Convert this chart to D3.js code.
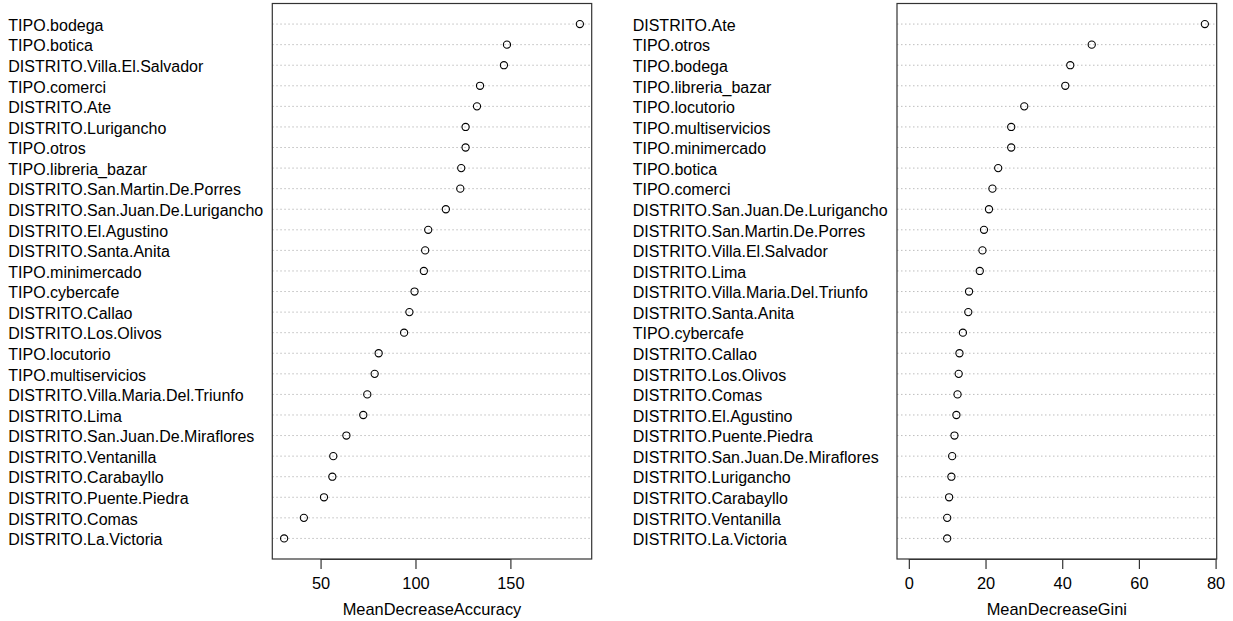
<!DOCTYPE html>
<html>
<head>
<meta charset="utf-8">
<script src="https://cdn.jsdelivr.net/npm/d3@7"></script>
<style>
  body { margin: 0; background: #fff; }
  svg { display: block; }
  text { font-family: "Liberation Sans", Arial, sans-serif; fill: #000; }
</style>
</head>
<body>
<svg id="chart" width="1233" height="621"></svg>
<script>
// Left panel: MeanDecreaseAccuracy (top to bottom)
const accLabels = [
  "TIPO.bodega", "TIPO.botica", "DISTRITO.Villa.El.Salvador", "TIPO.comerci",
  "DISTRITO.Ate", "DISTRITO.Lurigancho", "TIPO.otros", "TIPO.libreria_bazar",
  "DISTRITO.San.Martin.De.Porres", "DISTRITO.San.Juan.De.Lurigancho",
  "DISTRITO.El.Agustino", "DISTRITO.Santa.Anita", "TIPO.minimercado",
  "TIPO.cybercafe", "DISTRITO.Callao", "DISTRITO.Los.Olivos", "TIPO.locutorio",
  "TIPO.multiservicios", "DISTRITO.Villa.Maria.Del.Triunfo", "DISTRITO.Lima",
  "DISTRITO.San.Juan.De.Miraflores", "DISTRITO.Ventanilla", "DISTRITO.Carabayllo",
  "DISTRITO.Puente.Piedra", "DISTRITO.Comas", "DISTRITO.La.Victoria"
];
const accValues = [
  186.6, 148.2, 146.6, 134.0, 132.4, 126.4, 126.4, 124.1, 123.6, 116.0,
  106.7, 105.1, 104.4, 99.5, 96.8, 94.0, 80.6, 78.5, 74.6, 72.5,
  63.6, 56.7, 56.2, 51.8, 41.2, 30.8
];
const accTicks = [50, 100, 150];

// Right panel: MeanDecreaseGini (top to bottom)
const giniLabels = [
  "DISTRITO.Ate", "TIPO.otros", "TIPO.bodega", "TIPO.libreria_bazar",
  "TIPO.locutorio", "TIPO.multiservicios", "TIPO.minimercado", "TIPO.botica",
  "TIPO.comerci", "DISTRITO.San.Juan.De.Lurigancho", "DISTRITO.San.Martin.De.Porres",
  "DISTRITO.Villa.El.Salvador", "DISTRITO.Lima", "DISTRITO.Villa.Maria.Del.Triunfo",
  "DISTRITO.Santa.Anita", "TIPO.cybercafe", "DISTRITO.Callao", "DISTRITO.Los.Olivos",
  "DISTRITO.Comas", "DISTRITO.El.Agustino", "DISTRITO.Puente.Piedra",
  "DISTRITO.San.Juan.De.Miraflores", "DISTRITO.Lurigancho", "DISTRITO.Carabayllo",
  "DISTRITO.Ventanilla", "DISTRITO.La.Victoria"
];
const giniValues = [
  77.2, 47.7, 42.1, 40.8, 30.1, 26.7, 26.7, 23.3, 21.8, 20.9,
  19.6, 19.2, 18.5, 15.7, 15.5, 14.1, 13.2, 13.0, 12.7, 12.4,
  11.9, 11.3, 11.1, 10.5, 10.0, 10.0
];
const giniTicks = [0, 20, 40, 60, 80];

const svg = d3.select("#chart");

function panel(cfg) {
  const { labels, values, ticks, title, labelX, left, right, xmin } = cfg;
  const top = 3.5, bottom = 559;
  const n = values.length;
  const lo = xmin !== undefined ? xmin : d3.min(values);
  const hi = d3.max(values);
  const pad = (hi - lo) * 0.04;
  const x = d3.scaleLinear().domain([lo - pad, hi + pad]).range([left, right]);
  const y = d3.scaleLinear().domain([0, n + 1]).range([bottom, top]);
  const g = svg.append("g");

  // dotted guide lines
  g.selectAll("line.guide").data(values).join("line")
    .attr("class", "guide")
    .attr("x1", left).attr("x2", right)
    .attr("y1", (d, i) => y(n - i)).attr("y2", (d, i) => y(n - i))
    .attr("stroke", "#bebebe").attr("stroke-width", 1)
    .attr("stroke-dasharray", "1.5,2.5");

  // labels
  g.selectAll("text.lab").data(labels).join("text")
    .attr("class", "lab")
    .attr("x", labelX)
    .attr("y", (d, i) => y(n - i))
    .attr("dy", "0.42em")
    .attr("font-size", "16px")
    .text(d => d);

  // points
  g.selectAll("circle").data(values).join("circle")
    .attr("cx", d => x(d))
    .attr("cy", (d, i) => y(n - i))
    .attr("r", 3.6)
    .attr("fill", "none").attr("stroke", "#000").attr("stroke-width", 1.1);

  // box
  g.append("rect")
    .attr("x", left).attr("y", top)
    .attr("width", right - left).attr("height", bottom - top)
    .attr("fill", "none").attr("stroke", "#333").attr("stroke-width", 1.2);

  // x axis
  const axis = d3.axisBottom(x).tickValues(ticks).tickSize(10).tickPadding(8)
    .tickFormat(d3.format("d"));
  const ax = g.append("g").attr("transform", `translate(0,${bottom})`).call(axis);
  ax.select(".domain")
    .attr("d", `M${x(ticks[0])},0.5H${x(ticks[ticks.length - 1])}`)
    .attr("stroke", "#333").attr("stroke-width", 1.2);
  ax.selectAll(".tick line").attr("stroke", "#333").attr("stroke-width", 1.2);
  ax.selectAll(".tick text")
    .attr("font-size", "16.4px")
    .attr("font-family", "Liberation Sans, Arial, sans-serif")
    .attr("fill", "#000");

  g.append("text")
    .attr("x", (left + right) / 2).attr("y", 615)
    .attr("text-anchor", "middle")
    .attr("font-size", "16.4px")
    .text(title);
}

panel({ labels: accLabels, values: accValues, ticks: accTicks,
  title: "MeanDecreaseAccuracy", labelX: 8.3, left: 272.3, right: 591.7 });
panel({ labels: giniLabels, values: giniValues, ticks: giniTicks,
  title: "MeanDecreaseGini", labelX: 632.7, left: 897, right: 1216.7, xmin: 0 });
</script>
</body>
</html>
